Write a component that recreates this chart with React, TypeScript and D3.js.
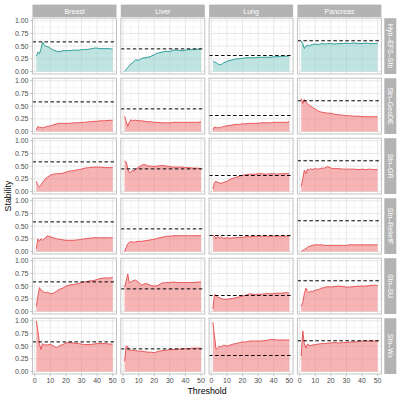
import React from "react";
import * as d3 from "d3";

const columns = ["Breast", "Liver", "Lung", "Pancreas"];
const rows = ["Hyb\u2013EFS\u2013Stb", "Stn\u2013GeoDE", "Stn\u2013GR", "Stn\u2013ReliefF", "Stn\u2013SU", "Stn\u2013Wx"];
const thresholds = [1, 2, 3, 4, 5, 6, 7, 8, 10, 12, 14, 16, 18, 20, 22, 25, 28, 30, 32, 35, 38, 40, 42, 45, 48, 50];
const referenceLevels = [0.583, 0.445, 0.315, 0.605];

// stability[row][column]
const hybEfsStb = [
  [0.30, 0.38, 0.35, 0.45, 0.58, 0.52, 0.50, 0.49, 0.46, 0.42, 0.40, 0.39, 0.41, 0.41, 0.41, 0.42, 0.42, 0.43, 0.43, 0.44, 0.46, 0.46, 0.45, 0.45, 0.45, 0.44],
  [0.00, 0.04, 0.08, 0.11, 0.15, 0.17, 0.20, 0.23, 0.22, 0.26, 0.27, 0.28, 0.30, 0.33, 0.36, 0.38, 0.40, 0.39, 0.42, 0.42, 0.41, 0.42, 0.43, 0.43, 0.44, 0.44],
  [0.21, 0.18, 0.18, 0.15, 0.14, 0.13, 0.15, 0.17, 0.20, 0.22, 0.23, 0.25, 0.25, 0.26, 0.27, 0.27, 0.27, 0.28, 0.28, 0.28, 0.28, 0.29, 0.29, 0.30, 0.30, 0.31],
  [0.60, 0.55, 0.45, 0.50, 0.52, 0.50, 0.52, 0.53, 0.54, 0.53, 0.55, 0.54, 0.55, 0.55, 0.54, 0.55, 0.55, 0.56, 0.55, 0.56, 0.55, 0.55, 0.56, 0.55, 0.55, 0.55],
];
const stnGeoDE = [
  [0.03, 0.10, 0.08, 0.08, 0.07, 0.08, 0.09, 0.10, 0.11, 0.13, 0.15, 0.16, 0.16, 0.16, 0.16, 0.17, 0.17, 0.18, 0.18, 0.19, 0.20, 0.20, 0.21, 0.21, 0.22, 0.22],
  [0.30, 0.20, 0.10, 0.18, 0.23, 0.21, 0.22, 0.22, 0.21, 0.21, 0.20, 0.19, 0.19, 0.18, 0.18, 0.17, 0.17, 0.17, 0.18, 0.18, 0.18, 0.18, 0.18, 0.18, 0.18, 0.19],
  [0.03, 0.09, 0.07, 0.08, 0.07, 0.08, 0.09, 0.10, 0.11, 0.12, 0.13, 0.14, 0.14, 0.15, 0.15, 0.16, 0.16, 0.16, 0.17, 0.17, 0.17, 0.18, 0.18, 0.18, 0.18, 0.19],
  [0.65, 0.55, 0.63, 0.58, 0.55, 0.52, 0.50, 0.48, 0.44, 0.40, 0.38, 0.37, 0.36, 0.36, 0.34, 0.33, 0.32, 0.31, 0.31, 0.30, 0.30, 0.29, 0.29, 0.29, 0.29, 0.29],
];
const stnGR = [
  [0.20, 0.12, 0.09, 0.13, 0.18, 0.22, 0.26, 0.28, 0.32, 0.34, 0.35, 0.35, 0.36, 0.38, 0.40, 0.41, 0.43, 0.44, 0.46, 0.47, 0.48, 0.48, 0.48, 0.47, 0.47, 0.47],
  [0.60, 0.58, 0.45, 0.37, 0.38, 0.42, 0.40, 0.44, 0.48, 0.52, 0.53, 0.50, 0.50, 0.49, 0.50, 0.51, 0.50, 0.49, 0.48, 0.48, 0.48, 0.47, 0.47, 0.46, 0.46, 0.45],
  [0.05, 0.18, 0.20, 0.18, 0.17, 0.16, 0.17, 0.18, 0.20, 0.24, 0.26, 0.28, 0.30, 0.32, 0.33, 0.34, 0.34, 0.35, 0.35, 0.34, 0.35, 0.35, 0.34, 0.35, 0.35, 0.35],
  [0.10, 0.25, 0.42, 0.35, 0.44, 0.42, 0.45, 0.43, 0.45, 0.44, 0.46, 0.46, 0.49, 0.46, 0.45, 0.45, 0.44, 0.44, 0.44, 0.44, 0.43, 0.44, 0.43, 0.44, 0.43, 0.43],
];
const stnReliefF = [
  [0.05, 0.25, 0.20, 0.25, 0.22, 0.25, 0.27, 0.31, 0.29, 0.27, 0.25, 0.24, 0.23, 0.22, 0.22, 0.22, 0.23, 0.24, 0.25, 0.26, 0.27, 0.27, 0.27, 0.27, 0.27, 0.27],
  [0.00, 0.08, 0.15, 0.18, 0.19, 0.19, 0.18, 0.19, 0.20, 0.20, 0.21, 0.22, 0.23, 0.24, 0.26, 0.28, 0.30, 0.30, 0.31, 0.31, 0.31, 0.31, 0.31, 0.31, 0.31, 0.31],
  [0.32, 0.30, 0.25, 0.30, 0.26, 0.29, 0.27, 0.26, 0.27, 0.26, 0.27, 0.27, 0.28, 0.28, 0.29, 0.29, 0.30, 0.30, 0.30, 0.30, 0.30, 0.30, 0.30, 0.30, 0.30, 0.30],
  [0.00, 0.02, 0.04, 0.06, 0.08, 0.10, 0.11, 0.12, 0.13, 0.13, 0.13, 0.12, 0.12, 0.12, 0.12, 0.12, 0.12, 0.12, 0.13, 0.13, 0.13, 0.13, 0.13, 0.13, 0.13, 0.13],
];
const stnSU = [
  [0.10, 0.30, 0.47, 0.42, 0.40, 0.38, 0.37, 0.38, 0.35, 0.36, 0.40, 0.44, 0.46, 0.50, 0.52, 0.53, 0.55, 0.57, 0.58, 0.60, 0.61, 0.63, 0.65, 0.66, 0.66, 0.67],
  [0.48, 0.60, 0.74, 0.56, 0.58, 0.60, 0.61, 0.62, 0.57, 0.52, 0.55, 0.54, 0.51, 0.50, 0.51, 0.56, 0.57, 0.57, 0.58, 0.57, 0.57, 0.57, 0.57, 0.57, 0.58, 0.58],
  [0.05, 0.33, 0.32, 0.28, 0.27, 0.26, 0.25, 0.24, 0.24, 0.25, 0.26, 0.27, 0.29, 0.30, 0.32, 0.35, 0.33, 0.34, 0.34, 0.35, 0.35, 0.35, 0.36, 0.36, 0.37, 0.36],
  [0.10, 0.18, 0.35, 0.46, 0.40, 0.37, 0.40, 0.39, 0.42, 0.43, 0.46, 0.47, 0.49, 0.48, 0.49, 0.50, 0.49, 0.48, 0.48, 0.49, 0.50, 0.50, 0.50, 0.51, 0.52, 0.51],
];
const stnWx = [
  [1.00, 0.80, 0.55, 0.43, 0.55, 0.52, 0.53, 0.52, 0.54, 0.50, 0.47, 0.51, 0.53, 0.56, 0.57, 0.56, 0.55, 0.54, 0.53, 0.53, 0.54, 0.55, 0.55, 0.55, 0.54, 0.54],
  [0.20, 0.50, 0.49, 0.41, 0.42, 0.42, 0.41, 0.41, 0.40, 0.40, 0.39, 0.38, 0.38, 0.37, 0.39, 0.41, 0.42, 0.43, 0.43, 0.44, 0.44, 0.45, 0.45, 0.46, 0.46, 0.46],
  [0.97, 0.70, 0.44, 0.45, 0.50, 0.48, 0.50, 0.52, 0.50, 0.52, 0.54, 0.55, 0.57, 0.58, 0.58, 0.60, 0.60, 0.60, 0.60, 0.61, 0.63, 0.63, 0.62, 0.62, 0.62, 0.62],
  [0.30, 0.80, 0.55, 0.46, 0.54, 0.52, 0.51, 0.52, 0.53, 0.54, 0.55, 0.55, 0.56, 0.56, 0.57, 0.56, 0.57, 0.57, 0.58, 0.58, 0.59, 0.60, 0.60, 0.60, 0.60, 0.60],
];
const seriesByRow = [hybEfsStb, stnGeoDE, stnGR, stnReliefF, stnSU, stnWx];
const xTicks = [0, 10, 20, 30, 40, 50];
const yTicks = [0, 0.25, 0.5, 0.75, 1];

const W = 399;
const H = 399;
const left0 = 32.5;
const colStep = 88.3;
const panelW = 84;
const top0 = 18.2;
const rowStep = 60;
const panelH = 55.8;
const font = "Liberation Sans, Arial, sans-serif";

const teal = { line: "#2f9f99", fill: "#7fc9c4" };
const red = { line: "#e8575a", fill: "#ee6a6c" };

export default function App() {
  const xExt = 49 * 0.05;
  const x = d3.scaleLinear().domain([1 - xExt, 50 + xExt]).range([0, panelW]);
  const y = d3.scaleLinear().domain([-0.05, 1.05]).range([panelH, 0]);
  const xMinor = [5, 15, 25, 35, 45];
  const yMinor = [0.125, 0.375, 0.625, 0.875];

  const area = d3.area<number>().x((_, i) => x(thresholds[i])).y0(y(0)).y1((d) => y(d));
  const line = d3.line<number>().x((_, i) => x(thresholds[i])).y((d) => y(d));

  return (
    <svg width={W} height={H} style={{ position: "absolute", left: 0, top: 0 }} fontFamily={font}>
      <rect width={W} height={H} fill="#fff" />
      {columns.map((c, j) => (
        <g key={"s" + c} transform={`translate(${left0 + colStep * j},${4.6})`}>
          <rect width={panelW} height={12.6} fill="#b3b3b3" />
          <text x={panelW / 2} y={9} textAnchor="middle" fontSize={7} fill="#fff">{c}</text>
        </g>
      ))}
      {rows.map((r, i) => (
        <g key={"r" + r} transform={`translate(${384.3},${top0 + rowStep * i})`}>
          <rect width={12} height={panelH} fill="#b3b3b3" />
          <text transform={`translate(${3.5},${panelH / 2}) rotate(90)`} textAnchor="middle" fontSize={7} fill="#fff">{r}</text>
        </g>
      ))}
      {rows.map((r, i) =>
        columns.map((c, j) => {
          const vals = seriesByRow[i][j];
          const col = i === 0 ? teal : red;
          return (
            <g key={r + c} transform={`translate(${left0 + colStep * j},${top0 + rowStep * i})`}>
              <rect width={panelW} height={panelH} fill="#fff" />
              {xMinor.map((t) => (
                <line key={"xm" + t} x1={x(t)} x2={x(t)} y1={0} y2={panelH} stroke="#efefef" strokeWidth={0.5} />
              ))}
              {yMinor.map((t) => (
                <line key={"ym" + t} y1={y(t)} y2={y(t)} x1={0} x2={panelW} stroke="#efefef" strokeWidth={0.5} />
              ))}
              {xTicks.map((t) => (
                <line key={"xg" + t} x1={x(t)} x2={x(t)} y1={0} y2={panelH} stroke="#e0e0e0" strokeWidth={0.7} />
              ))}
              {yTicks.map((t) => (
                <line key={"yg" + t} y1={y(t)} y2={y(t)} x1={0} x2={panelW} stroke="#e0e0e0" strokeWidth={0.7} />
              ))}
              <path d={area(vals) || ""} fill={col.fill} fillOpacity={0.5} />
              <path d={line(vals) || ""} fill="none" stroke={col.line} strokeWidth={1} />
              <line x1={0} x2={panelW} y1={y(referenceLevels[j])} y2={y(referenceLevels[j])} stroke="#000" strokeWidth={1} strokeDasharray="3.5,2.5" />
              <rect width={panelW} height={panelH} fill="none" stroke="#c4c4c4" strokeWidth={1} />
              {j === 0 &&
                yTicks.map((t) => (
                  <g key={"yt" + t}>
                    <line x1={-2.5} x2={0} y1={y(t)} y2={y(t)} stroke="#b3b3b3" strokeWidth={0.7} />
                    <text x={-4} y={y(t) + 2.5} textAnchor="end" fontSize={7} fill="#4d4d4d">{t.toFixed(2)}</text>
                  </g>
                ))}
              {i === rows.length - 1 &&
                xTicks.map((t) => (
                  <g key={"xt" + t}>
                    <line x1={x(t)} x2={x(t)} y1={panelH} y2={panelH + 2.5} stroke="#b3b3b3" strokeWidth={0.7} />
                    <text x={x(t)} y={panelH + 9.5} textAnchor="middle" fontSize={7} fill="#4d4d4d">{t}</text>
                  </g>
                ))}
            </g>
          );
        })
      )}
      <text x={207} y={394} textAnchor="middle" fontSize={8.8} fill="#000">Threshold</text>
      <text transform={`translate(${10.5},${196}) rotate(-90)`} textAnchor="middle" fontSize={8.8} fill="#000">Stability</text>
    </svg>
  );
}
